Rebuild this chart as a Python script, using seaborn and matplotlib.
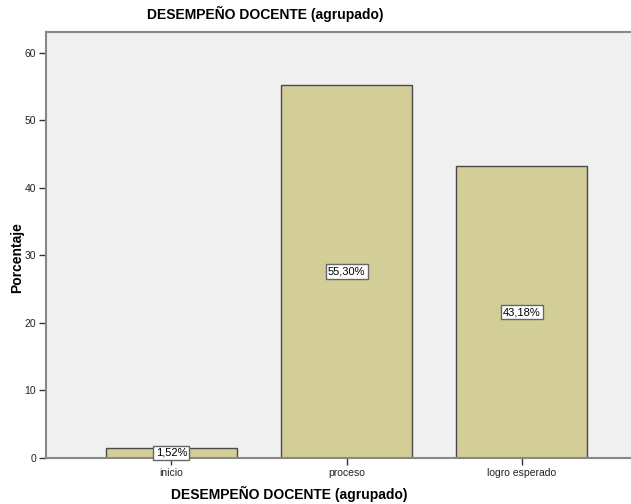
import matplotlib
matplotlib.use("Agg")
import matplotlib.pyplot as plt
import seaborn as sns
import pandas as pd

categorias = ["inicio", "proceso", "logro esperado"]
porcentajes = [1.52, 55.30, 43.18]
etiquetas = ["1,52%", "55,30%", "43,18%"]

df = pd.DataFrame({"cat": categorias, "pct": porcentajes})

sns.set_style("white")
plt.rcParams["font.family"] = ["Liberation Sans", "DejaVu Sans"]

fig = plt.figure(figsize=(6.31, 5.04), dpi=100)
ax = fig.add_axes([46 / 631, 1 - 458 / 504, 1 - 46 / 631 + 0.01, (458 - 32) / 504])
ax.set_facecolor("#f0f0f0")

sns.barplot(data=df, x="cat", y="pct", color="#d3ce97", saturation=1,
            width=0.745, edgecolor="#4a4a4a", linewidth=1.0, ax=ax)

for i, v in enumerate(porcentajes):
    ax.text(i, v / 2, etiquetas[i], ha="center", va="center", fontsize=8, color="black",
            bbox=dict(boxstyle="square,pad=0.2", fc="white", ec="#666666", lw=1))

ax.set_xlim(-0.716, 2.66)
ax.set_ylim(0, 63.1)
ax.set_yticks([0, 10, 20, 30, 40, 50, 60])
ax.tick_params(axis="both", length=5, width=1, color="#333333", labelsize=7.5,
               labelcolor="#222222", pad=2, left=True, bottom=True)

for s in ["left", "top", "bottom"]:
    ax.spines[s].set_color("#888888")
    ax.spines[s].set_linewidth(1.5)
ax.spines["right"].set_visible(False)

ax.set_xlabel("")
ax.set_ylabel("")
fig.text(265 / 631, 1 - 14 / 504, "DESEMPEÑO DOCENTE (agrupado)", ha="center", va="center",
         fontsize=10, fontweight="bold", color="black")
fig.text(289 / 631, 1 - 494 / 504, "DESEMPEÑO DOCENTE (agrupado)", ha="center", va="center",
         fontsize=10, fontweight="bold", color="black")
fig.text(17 / 631, 1 - 258 / 504, "Porcentaje", ha="center", va="center", rotation=90,
         fontsize=10, fontweight="bold", color="black")

fig.savefig("out.png", dpi=100)
